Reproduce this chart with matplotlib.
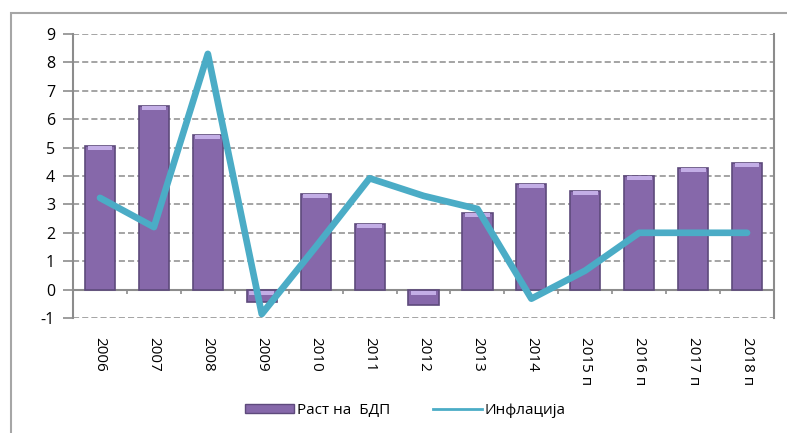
import numpy as np
import matplotlib
matplotlib.use("Agg")
import matplotlib.pyplot as plt
from matplotlib.lines import Line2D
from matplotlib.patches import Patch, Rectangle

plt.rcParams['font.family'] = ['Open Sans', 'DejaVu Sans']
plt.rcParams['axes.unicode_minus'] = False

# Data
years = ['2006', '2007', '2008', '2009', '2010', '2011', '2012', '2013',
         '2014', '2015 п', '2016 п', '2017 п', '2018 п']
gdp = [5.05, 6.47, 5.45, -0.45, 3.37, 2.32, -0.55, 2.7, 3.72, 3.46, 4.0, 4.28, 4.46]
inflation = [3.23, 2.2, 8.3, -0.86, 1.5, 3.92, 3.3, 2.84, -0.32, 0.67, 2.0, 2.0, 2.0]

bar_color = '#8668aa'
bar_edge = '#5e4a7c'
cap_color = '#c3aee6'
line_color = '#4bacc6'
grid_color = '#8c8c8c'

fig = plt.figure(figsize=(7.87, 4.33), dpi=100)
ax = fig.add_axes([0.0928, 0.2656, 0.8907, 0.6559])

# outer frame of the chart (clipped on right and bottom like the picture)
fig.patches.append(Rectangle((11 / 787, -0.1), 1.2, 1 - 13 / 433 + 0.1,
                             transform=fig.transFigure, fill=False,
                             edgecolor='#a6a6a6', lw=1.5))

x = np.arange(len(years))
ax.bar(x, gdp, width=0.56, color=bar_color, edgecolor=bar_edge, linewidth=1.2, zorder=2)
# light cap at top of each bar
gdp_arr = np.array(gdp)
cap_bottom = np.where(gdp_arr > 0, gdp_arr - 0.14, -0.2)
cap_top = np.where(gdp_arr > 0, gdp_arr, -0.04)
ax.bar(x, cap_top - cap_bottom, bottom=cap_bottom, width=0.46,
       color=cap_color, linewidth=0, zorder=3)

ax.plot(x, inflation, color=line_color, lw=4.8, solid_capstyle='round',
        solid_joinstyle='round', zorder=4)

ax.set_xlim(-0.5, len(years) - 0.5)
ax.set_ylim(-1, 9)
ax.set_yticks(range(-1, 10))
ax.yaxis.grid(True, linestyle=(0, (4, 2)), color=grid_color, lw=1.1, zorder=0)
ax.set_axisbelow(True)

# zero line with category tick marks
ax.axhline(0, color=grid_color, lw=1.5, zorder=1)
ax.vlines(x[:-1] + 0.5, -0.17, 0, color=grid_color, lw=1.2, zorder=1)

for s in ['top', 'bottom']:
    ax.spines[s].set_visible(False)
for s in ['left', 'right']:
    ax.spines[s].set_color(grid_color)
    ax.spines[s].set_linewidth(1.5)

ax.set_xticks(x)
ax.set_xticklabels(years, rotation=270, fontsize=11)
ax.tick_params(axis='x', length=0, pad=14)
ax.tick_params(axis='y', length=7, width=1.2, color=grid_color, labelsize=11.5, pad=6)

handles = [Patch(facecolor=bar_color, edgecolor=bar_edge),
           Line2D([0], [0], color=line_color, lw=2)]
fig.legend(handles, ['Раст на  БДП', 'Инфлација'], loc='center',
           bbox_to_anchor=(0.515, 0.052), ncol=2, frameon=False, fontsize=11,
           handlelength=3.2, handleheight=0.6, columnspacing=2.8, handletextpad=0.2)

fig.savefig('out.png', dpi=100)
